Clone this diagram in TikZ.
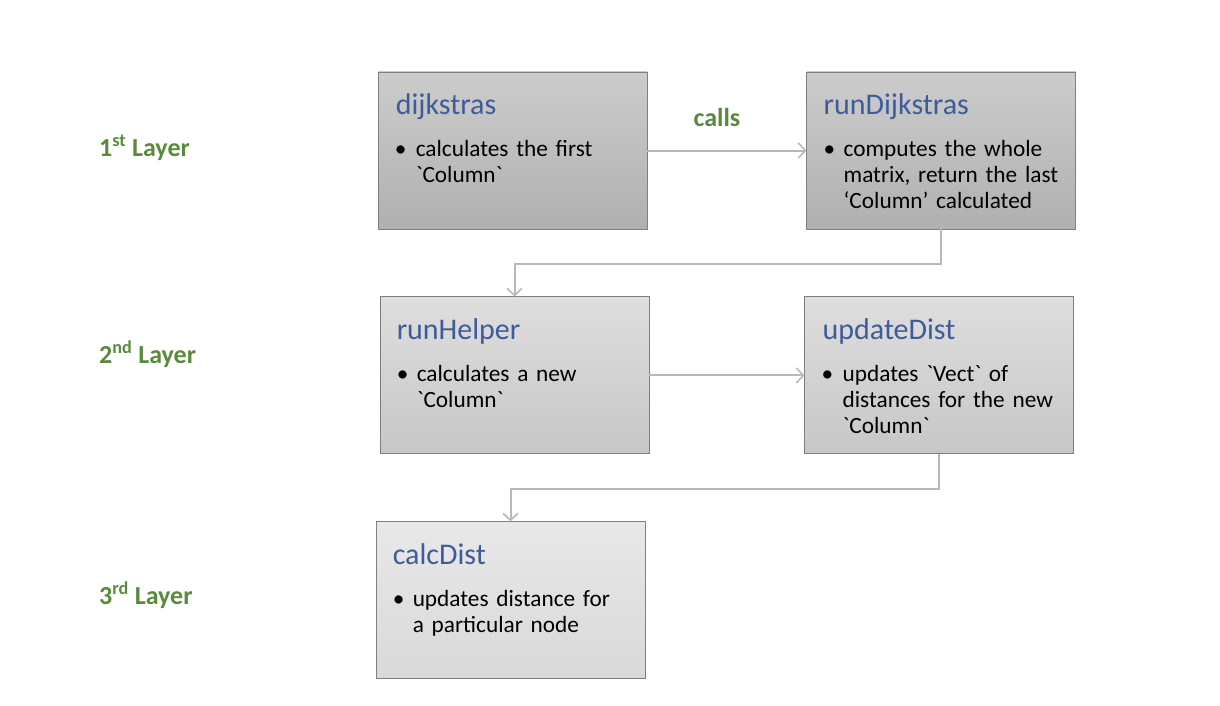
\documentclass[tikz,border=0pt]{standalone}
\usepackage{fontspec}
\setmainfont{Carlito}[Ligatures=TeXOff]
\usetikzlibrary{positioning,arrows.meta}
\definecolor{titleblue}{HTML}{3E5C9A}
\definecolor{layergreen}{HTML}{5A8A3C}
\definecolor{linegray}{HTML}{B8B8B8}
\definecolor{boxline}{HTML}{7F7F7F}
\tikzset{box/.style={rectangle,draw=boxline,line width=0.9pt,minimum width=269pt,minimum height=157pt,inner sep=0pt},
  row one/.style={box,top color=black!20,bottom color=black!31},
  row two/.style={box,top color=black!13,bottom color=black!22},
  row three/.style={box,top color=black!9,bottom color=black!15},
  title/.style={anchor=base west,inner sep=0pt,text=titleblue,font=\fontsize{30}{34}\selectfont},
  item/.style={anchor=base west,inner sep=0pt,text width=260pt,align=left,font=\fontsize{23.3}{26}\selectfont},
  dot/.style={anchor=base,inner sep=0pt,font=\fontsize{23.3}{26}\selectfont},
  layer/.style={anchor=base west,inner sep=0pt,text=layergreen,font=\bfseries\fontsize{26}{30}\selectfont},
  link/.style={draw=linegray,line width=2pt,-{Straight Barb[length=7pt,width=15pt,line width=1.6pt]}},}

\begin{document}
\begin{tikzpicture}
      \useasboundingbox (0,0) rectangle (1220pt,-706pt);

      \node[row one] (1) at (512.5pt,-150.5pt) {};
      \node[row one] (2) [right = 159pt of 1] {};
      \node[row two] (3) [below = 67pt of 1, xshift=2pt] {};
      \node[row two] (4) [below = 67pt of 2, xshift=-2pt] {};
      \node[row three] (5) [below = 67pt of 3, xshift=-4pt] {};

      \node[title] (1t) at ([xshift=18pt,yshift=-43pt]1.north west) {dijkstras};
      \node[dot] (1d) at ([xshift=23pt,yshift=-85pt]1.north west) {•};
      \node[item] (1i) at ([xshift=38pt,yshift=-85pt]1.north west) {calculates the first\\`Column`};

      \node[title] (2t) at ([xshift=17pt,yshift=-43pt]2.north west) {runDijkstras};
      \node[dot] (2d) at ([xshift=23pt,yshift=-85pt]2.north west) {•};
      \node[item] (2i) at ([xshift=37pt,yshift=-85pt]2.north west) {computes the whole\\matrix, return the last\\‘Column’ calculated};

      \node[title] (3t) at ([xshift=17pt,yshift=-43pt]3.north west) {runHelper};
      \node[dot] (3d) at ([xshift=23pt,yshift=-85pt]3.north west) {•};
      \node[item] (3i) at ([xshift=37pt,yshift=-85pt]3.north west) {calculates a new\\`Column`};

      \node[title] (4t) at ([xshift=18pt,yshift=-43pt]4.north west) {updateDist};
      \node[dot] (4d) at ([xshift=23pt,yshift=-85pt]4.north west) {•};
      \node[item] (4i) at ([xshift=38pt,yshift=-85pt]4.north west) {updates `Vect` of\\distances for the new\\`Column`};

      \node[title] (5t) at ([xshift=17pt,yshift=-43pt]5.north west) {calcDist};
      \node[dot] (5d) at ([xshift=23pt,yshift=-85pt]5.north west) {•};
      \node[item] (5i) at ([xshift=37pt,yshift=-85pt]5.north west) {updates distance for\\a particular node};

      \node[layer] (l1) at (99pt,-156pt) {1\textsuperscript{st} Layer};
      \node[layer] (l2) at (99pt,-363pt) {2\textsuperscript{nd} Layer};
      \node[layer] (l3) at (99pt,-604pt) {3\textsuperscript{rd} Layer};

      \path[link]
        (1) edge node[layer,anchor=base,xshift=-10pt,yshift=24pt] (calls) {calls} (2)
        (3) edge (4);
      \draw[link] (2.south) -- ++(0,-35pt) -| (3.north);
      \draw[link] (4.south) -- ++(0,-35pt) -| (5.north);

    \end{tikzpicture}
\end{document}
